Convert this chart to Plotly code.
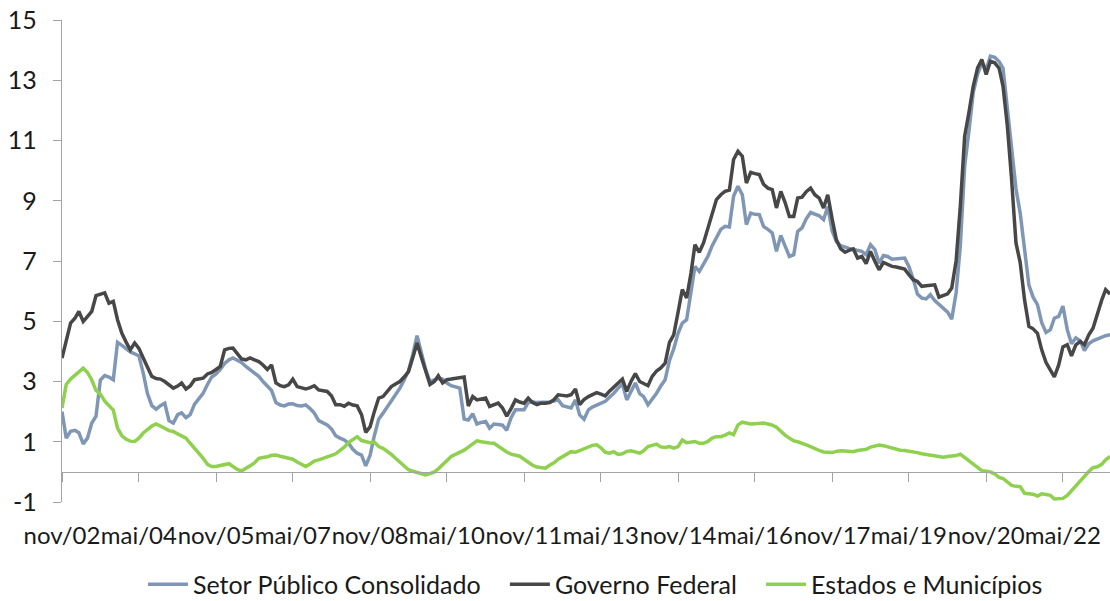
import pandas as pd
import plotly.graph_objects as go

# monthly categories: nov/2002 ... (246 months)
months = pd.date_range("2002-11-01", periods=246, freq="MS")

tick_labels = ["nov/02", "mai/04", "nov/05", "mai/07", "nov/08", "mai/10", "nov/11",
               "mai/13", "nov/14", "mai/16", "nov/17", "mai/19", "nov/20", "mai/22"]

setor_publico = [
    2.00, 1.12, 1.35, 1.38, 1.30, 0.93, 1.12, 1.62, 1.85, 3.05,
    3.20, 3.15, 3.06, 4.30, 4.20, 4.10, 3.98, 3.92, 3.85, 3.28,
    2.60, 2.20, 2.08, 2.20, 2.28, 1.70, 1.62, 1.90, 1.96, 1.80,
    1.90, 2.25, 2.45, 2.61, 2.90, 3.15, 3.25, 3.40, 3.60, 3.72,
    3.78, 3.70, 3.63, 3.50, 3.40, 3.30, 3.17, 3.00, 2.85, 2.70,
    2.30, 2.22, 2.19, 2.25, 2.26, 2.20, 2.19, 2.22, 2.10, 1.95,
    1.70, 1.62, 1.56, 1.42, 1.20, 1.12, 1.06, 0.95, 0.75, 0.62,
    0.56, 0.20, 0.55, 1.20, 1.75, 1.95, 2.15, 2.38, 2.60, 2.78,
    3.05, 3.35, 3.90, 4.52, 3.95, 3.40, 3.00, 3.05, 3.10, 3.08,
    2.95, 2.86, 2.82, 2.78, 1.75, 1.72, 1.93, 1.59, 1.64, 1.67,
    1.45, 1.59, 1.57, 1.55, 1.38, 1.80, 2.06, 2.05, 2.06, 2.30,
    2.33, 2.30, 2.31, 2.30, 2.32, 2.35, 2.39, 2.20, 2.15, 2.12,
    2.39, 1.89, 1.75, 2.06, 2.15, 2.22, 2.28, 2.34, 2.48, 2.61,
    2.78, 2.92, 2.39, 2.70, 2.95, 2.60, 2.50, 2.23, 2.42, 2.61,
    2.85, 3.06, 3.70, 4.08, 4.60, 4.94, 5.05, 5.90, 6.82, 6.65,
    6.90, 7.15, 7.50, 7.76, 8.05, 8.15, 8.13, 9.15, 9.48, 9.20,
    8.21, 8.59, 8.55, 8.54, 8.15, 8.05, 7.93, 7.32, 7.85, 7.50,
    7.15, 7.21, 7.98, 8.10, 8.40, 8.61, 8.56, 8.50, 8.37, 8.81,
    8.00, 7.65, 7.51, 7.45, 7.42, 7.38, 7.35, 7.32, 7.21, 7.54,
    7.38, 6.93, 7.18, 7.15, 7.06, 7.08, 7.10, 7.10, 6.82, 6.40,
    5.90, 5.77, 5.74, 5.88, 5.69, 5.55, 5.44, 5.30, 5.07, 5.94,
    7.50, 10.14, 11.30, 12.60, 13.20, 13.58, 13.36, 13.80, 13.76, 13.62,
    13.40, 12.00, 10.80, 9.40, 8.59, 7.38, 6.20, 5.80, 5.55, 4.95,
    4.63, 4.72, 5.10, 5.16, 5.50, 4.72, 4.25, 4.45, 4.35, 4.03,
    4.25, 4.35, 4.41, 4.45, 4.52, 4.55,
]

governo_federal = [
    3.78, 4.40, 4.94, 5.10, 5.33, 4.99, 5.15, 5.33, 5.85, 5.90,
    5.94, 5.60, 5.66, 5.05, 4.60, 4.30, 4.05, 4.28, 4.10, 3.78,
    3.45, 3.17, 3.10, 3.08, 3.00, 2.90, 2.78, 2.85, 2.95, 2.75,
    2.85, 3.06, 3.08, 3.11, 3.25, 3.30, 3.40, 3.50, 4.05, 4.10,
    4.11, 3.94, 3.75, 3.72, 3.78, 3.72, 3.66, 3.55, 3.40, 3.55,
    2.95, 2.86, 2.83, 2.89, 3.08, 2.83, 2.80, 2.75, 2.80, 2.86,
    2.72, 2.70, 2.67, 2.52, 2.23, 2.23, 2.18, 2.28, 2.22, 2.19,
    1.90, 1.31, 1.50, 2.00, 2.45, 2.50, 2.65, 2.83, 2.92, 3.00,
    3.15, 3.33, 3.80, 4.28, 3.80, 3.39, 2.90, 3.00, 3.19, 2.95,
    3.06, 3.08, 3.11, 3.13, 3.15, 2.19, 2.50, 2.39, 2.42, 2.45,
    2.17, 2.22, 2.28, 2.12, 1.85, 2.10, 2.39, 2.32, 2.28, 2.45,
    2.30, 2.23, 2.28, 2.28, 2.30, 2.40, 2.56, 2.54, 2.52, 2.56,
    2.75, 2.23, 2.40, 2.50, 2.57, 2.63, 2.58, 2.52, 2.68, 2.83,
    2.95, 3.08, 2.67, 3.00, 3.26, 3.00, 2.92, 2.86, 3.17, 3.35,
    3.45, 3.61, 4.30, 4.55, 5.30, 6.05, 5.77, 6.60, 7.54, 7.29,
    7.60, 8.10, 8.60, 9.04, 9.20, 9.31, 9.35, 10.37, 10.64, 10.48,
    9.59, 9.94, 9.90, 9.87, 9.55, 9.42, 9.37, 8.76, 9.31, 8.95,
    8.48, 8.48, 9.09, 9.12, 9.30, 9.42, 9.20, 9.09, 8.76, 9.20,
    8.40, 7.71, 7.40, 7.29, 7.35, 7.40, 7.10, 7.15, 6.91, 7.32,
    6.99, 6.71, 6.95, 6.88, 6.82, 6.80, 6.77, 6.73, 6.55, 6.38,
    6.32, 6.16, 6.18, 6.20, 6.21, 5.80, 5.85, 5.91, 6.10, 7.00,
    8.81, 11.14, 11.92, 12.80, 13.41, 13.69, 13.19, 13.63, 13.58, 13.40,
    12.80, 11.47, 9.70, 7.60, 6.95, 5.71, 4.83, 4.75, 4.60, 4.05,
    3.63, 3.39, 3.15, 3.55, 4.15, 4.22, 3.85, 4.22, 4.33, 4.22,
    4.55, 4.77, 5.27, 5.70, 6.05, 5.90,
]

estados_municipios = [
    2.12, 2.90, 3.08, 3.20, 3.33, 3.44, 3.30, 3.05, 2.70, 2.58,
    2.35, 2.18, 2.05, 1.45, 1.20, 1.08, 1.02, 1.01, 1.12, 1.29,
    1.42, 1.52, 1.59, 1.53, 1.45, 1.37, 1.34, 1.26, 1.20, 1.12,
    0.95, 0.80, 0.62, 0.45, 0.25, 0.18, 0.18, 0.21, 0.25, 0.27,
    0.18, 0.08, 0.03, 0.10, 0.20, 0.30, 0.45, 0.48, 0.50, 0.55,
    0.56, 0.52, 0.49, 0.45, 0.42, 0.33, 0.27, 0.18, 0.26, 0.36,
    0.40, 0.44, 0.50, 0.55, 0.60, 0.70, 0.82, 0.97, 1.08, 1.17,
    1.04, 1.00, 0.97, 0.99, 0.84, 0.78, 0.70, 0.58, 0.45, 0.31,
    0.18, 0.07, 0.02, -0.02, -0.06, -0.10, -0.06, 0.00, 0.10, 0.23,
    0.38, 0.51, 0.58, 0.65, 0.72, 0.82, 0.92, 1.03, 1.00, 0.97,
    0.96, 0.95, 0.85, 0.75, 0.66, 0.59, 0.55, 0.52, 0.42, 0.31,
    0.22, 0.16, 0.13, 0.12, 0.22, 0.30, 0.42, 0.51, 0.60, 0.67,
    0.65, 0.70, 0.78, 0.82, 0.88, 0.90, 0.80, 0.65, 0.62, 0.67,
    0.58, 0.60, 0.68, 0.70, 0.67, 0.62, 0.70, 0.84, 0.88, 0.92,
    0.83, 0.81, 0.84, 0.79, 0.84, 1.06, 0.97, 0.99, 1.01, 0.95,
    0.95, 1.01, 1.12, 1.17, 1.17, 1.22, 1.29, 1.23, 1.56, 1.65,
    1.62, 1.59, 1.60, 1.62, 1.62, 1.59, 1.55, 1.48, 1.33, 1.22,
    1.12, 1.03, 1.00, 0.96, 0.90, 0.84, 0.77, 0.71, 0.66, 0.64,
    0.64, 0.68, 0.70, 0.69, 0.68, 0.67, 0.71, 0.73, 0.75, 0.82,
    0.87, 0.89, 0.87, 0.83, 0.78, 0.74, 0.72, 0.71, 0.69, 0.67,
    0.64, 0.60, 0.58, 0.56, 0.53, 0.50, 0.49, 0.51, 0.52, 0.54,
    0.59, 0.48, 0.35, 0.23, 0.13, 0.04, 0.02, 0.00, -0.07, -0.18,
    -0.22, -0.32, -0.45, -0.48, -0.49, -0.71, -0.72, -0.74, -0.80, -0.73,
    -0.75, -0.78, -0.90, -0.90, -0.88, -0.78, -0.62, -0.45, -0.30, -0.12,
    0.01, 0.14, 0.17, 0.25, 0.40, 0.51,
]

y_ticks = [-1, 1, 3, 5, 7, 9, 11, 13, 15]
y_tick_labels = ["-1", "1", "3", "5", "7", "9", "11", "13", "15"]

series_names = ["Setor Público Consolidado", "Governo Federal", "Estados e Municípios"]

FONT = "Lato"
AXIS_COLOR = "#a3a3a3"
TEXT_COLOR = "#1a1a1a"
PAD = "\u00a0\u00a0\u00a0"  # extra spacing between legend entries

fig = go.Figure()
fig.add_trace(go.Scatter(x=months, y=setor_publico, mode="lines",
                         name=series_names[0] + PAD,
                         line=dict(color="#7f97b5", width=3.5)))
fig.add_trace(go.Scatter(x=months, y=governo_federal, mode="lines",
                         name=series_names[1] + PAD,
                         line=dict(color="#474747", width=3.5)))
fig.add_trace(go.Scatter(x=months, y=estados_municipios, mode="lines",
                         name=series_names[2],
                         line=dict(color="#8fd14f", width=3.5)))

fig.update_layout(
    width=1110, height=601,
    margin=dict(l=62, r=0, t=20, b=99, autoexpand=False),
    paper_bgcolor="white", plot_bgcolor="white",
    font=dict(family=FONT, size=25, color=TEXT_COLOR),
    showlegend=True,
    legend=dict(orientation="h", x=0.509, xanchor="center", y=-0.171, yanchor="middle",
                font=dict(family=FONT, size=25, color=TEXT_COLOR),
                itemwidth=40, tracegroupgap=0, bgcolor="rgba(0,0,0,0)"),
    xaxis=dict(
        range=[months[0], months[-1]],
        anchor="free", position=1 / 16, automargin=False,
        showline=True, linecolor=AXIS_COLOR, linewidth=1.3,
        ticks="outside", ticklen=9, tickcolor=AXIS_COLOR, tickwidth=1.3,
        tickvals=list(months[::18]), ticktext=tick_labels,
        tickangle=0,
        ticklabelstandoff=33,
        showgrid=False, zeroline=False,
        tickfont=dict(family=FONT, size=24, color=TEXT_COLOR),
    ),
    yaxis=dict(
        range=[-1, 15], tickvals=y_ticks, ticktext=y_tick_labels, automargin=False,
        showline=True, linecolor=AXIS_COLOR, linewidth=1.3,
        ticks="outside", ticklen=8, tickcolor=AXIS_COLOR, tickwidth=1.3,
        ticklabelstandoff=11,
        showgrid=False, zeroline=False,
        tickfont=dict(family=FONT, size=25, color=TEXT_COLOR),
    ),
)

fig.write_html("out.html")
